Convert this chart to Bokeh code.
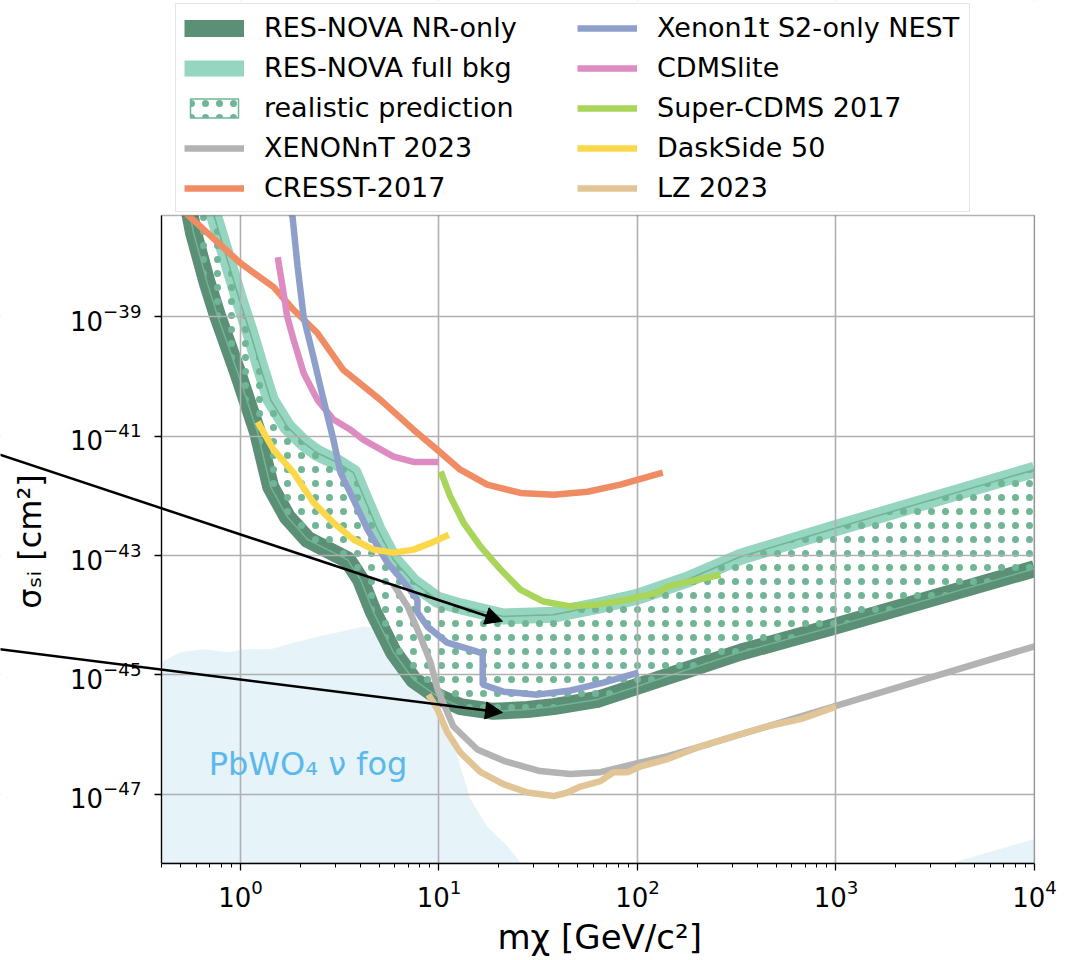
import numpy as np
from bokeh.plotting import figure
from bokeh.models import (Range1d, FixedTicker, Legend, LegendItem, Arrow,
                          NormalHead, Label, BoxAnnotation, Title)
from bokeh.embed import file_html
from bokeh.resources import INLINE

# ---------------- data (mass in GeV/c^2, cross-section as log10(sigma/cm^2)) -------------
nr_only_mass = [0.535, 0.56, 0.58, 0.68, 0.77, 0.97, 1.22, 1.42, 1.72, 2.18, 2.74, 3.46,
                4.02, 4.68, 5.9, 7.44, 9.83, 12.8, 18.8, 27.9, 37.8, 62.8, 100, 179, 330,
                971, 10000]
nr_only_logsig = [-36.96, -37.33, -37.59, -38.43, -39.0, -39.94, -40.94, -41.85, -42.35,
                  -42.73, -42.90, -43.07, -43.40, -43.95, -44.62, -45.08, -45.36, -45.53,
                  -45.61, -45.58, -45.53, -45.41, -45.19, -44.91, -44.62, -44.19, -43.22]

full_bkg_mass = [0.68, 0.74, 0.86, 1.0, 1.12, 1.26, 1.42, 1.72, 2.08, 2.44, 3.08, 3.71,
                 4.17, 4.90, 5.90, 7.44, 9.83, 12.8, 21.1, 37.8, 67.4, 100, 179, 330, 971,
                 10000]
full_bkg_logsig = [-36.96, -37.33, -38.05, -38.77, -39.27, -39.84, -40.39, -40.84, -41.11,
                   -41.28, -41.44, -41.61, -42.01, -42.56, -43.07, -43.45, -43.74, -43.85,
                   -44.02, -43.99, -43.82, -43.69, -43.40, -43.02, -42.55, -41.56]

cresst_mass = [0.477, 0.56, 1.0, 1.47, 1.85, 2.44, 3.30, 5.07, 7.44, 9.83, 12.8, 17.5,
               25.7, 37.8, 56, 82, 134]
cresst_logsig = [-37.13, -37.33, -38.10, -38.50, -38.88, -39.27, -39.89, -40.39, -40.89,
                 -41.23, -41.56, -41.81, -41.95, -41.98, -41.93, -41.81, -41.61]

xenon1t_mass = [1.77, 1.83, 1.94, 2.08, 2.33, 2.62, 2.94, 3.19, 3.71, 4.36, 5.50, 6.94,
                7.79, 7.79, 8.75, 11.0, 13.9, 16.6, 16.6, 21.1, 31.3, 45.9, 67.4, 101]
xenon1t_logsig = [-37.13, -37.33, -38.16, -39.0, -39.67, -40.39, -41.06, -41.61, -42.06,
                  -42.56, -43.12, -43.52, -43.74, -43.95, -44.19, -44.46, -44.56, -44.64,
                  -45.16, -45.28, -45.33, -45.26, -45.13, -44.96]

cdmslite_mass = [1.54, 1.63, 1.72, 1.85, 2.08, 2.44, 2.94, 3.58, 4.17, 5.90, 7.44, 9.94]
cdmslite_logsig = [-38.0, -38.50, -39.0, -39.38, -39.94, -40.39, -40.72, -40.89, -41.06,
                   -41.34, -41.43, -41.43]

supercdms_mass = [10.2, 11.4, 13.3, 16.2, 20.4, 25.7, 33.6, 45.9, 62.9, 89, 126, 142, 179,
                  262]
supercdms_logsig = [-41.59, -42.01, -42.45, -42.85, -43.23, -43.57, -43.77, -43.85, -43.82,
                    -43.74, -43.62, -43.52, -43.44, -43.32]

darkside_mass = [1.22, 1.47, 1.85, 2.33, 2.94, 3.71, 4.68, 5.90, 7.44, 9.38, 11.2]
darkside_logsig = [-40.76, -41.23, -41.61, -42.11, -42.45, -42.73, -42.90, -42.95, -42.90,
                   -42.77, -42.65]

xenonnt_mass = [5.90, 6.94, 8.07, 9.06, 9.83, 11.8, 15.6, 21.6, 32.3, 45.9, 65, 100, 142,
                207, 305, 452, 971, 10000]
xenonnt_logsig = [-43.49, -43.85, -44.36, -44.79, -45.24, -45.86, -46.25, -46.45, -46.61,
                  -46.66, -46.63, -46.48, -46.36, -46.20, -46.03, -45.86, -45.53, -44.52]

lz_mass = [8.85, 9.83, 11.0, 12.8, 16.2, 21.1, 27.9, 37.8, 44.4, 51.6, 65.1, 75.7, 89, 104,
           142, 207, 305, 452, 662, 1000]
lz_logsig = [-45.33, -45.58, -45.96, -46.30, -46.63, -46.83, -46.97, -47.03, -46.97, -46.87,
             -46.78, -46.63, -46.63, -46.53, -46.41, -46.20, -46.03, -45.86, -45.74, -45.53]

fog_left_mass = [0.395, 0.499, 0.652, 0.86, 1.08, 1.42, 1.85, 2.44, 3.08, 4.17, 4.68, 5.90,
                 7.18, 8.75, 10.2, 11.4, 12.8, 14.4, 17.5, 22.1, 25.7, 28]
fog_left_logsig = [-44.79, -44.62, -44.57, -44.62, -44.57, -44.57, -44.46, -44.36, -44.29,
                   -44.19, -44.20, -44.41, -44.74, -45.13, -45.58, -45.96, -46.53, -47.08,
                   -47.54, -47.87, -48.14, -48.3]
fog_right_mass = [3800, 3950, 10000]
fog_right_logsig = [-48.3, -48.14, -47.75]
fog_floor_logsig = -50.0

# annotation arrows (mass, log10 sigma)
arrow_start_mass = [0.0614, 0.0614]
arrow_start_logsig = [-41.31, -44.57]
arrow_end_mass = [20.9, 20.9]
arrow_end_logsig = [-44.10, -45.63]

fog_label_mass = 2.19
fog_label_logsig = -46.50

x_ticks = [1, 10, 100, 1000, 10000]
y_ticks_exp = [-47, -45, -43, -41, -39]


def sig(a):
    return [10.0 ** v for v in a]


# ---------------- colours / geometry ----------------
C_DARK = "#5b8f76"
C_LIGHT = "#96d5bf"
C_HATCH = "#6fb596"
C_CRESST = "#ef8c63"
C_XE1T = "#8f9fcb"
C_CDMSL = "#dd8cc2"
C_SCDMS = "#a8d55a"
C_DS = "#fbd84a"
C_XENT = "#b3b3b3"
C_LZ = "#e2c597"
C_FOG = "#e6f3f8"
FONT = "DejaVu Sans"

X_LO, X_HI = 0.4, 1e4                    # visible axes box
Y_LO_EXP, Y_HI_EXP = -48.16, -37.30
AX_W, AX_H = 873, 648                    # axes box size (px)
LEFT_PAD, RIGHT_PAD, TOP_PAD = 161, 4, 215   # drawing room around the axes box
px_dec_x = AX_W / (np.log10(X_HI) - np.log10(X_LO))
px_dec_y = AX_H / (Y_HI_EXP - Y_LO_EXP)

p = figure(x_axis_type="log", y_axis_type="log",
           x_range=Range1d(10 ** (np.log10(X_LO) - LEFT_PAD / px_dec_x),
                           10 ** (np.log10(X_HI) + RIGHT_PAD / px_dec_x)),
           y_range=Range1d(10 ** Y_LO_EXP, 10 ** (Y_HI_EXP + TOP_PAD / px_dec_y)),
           frame_width=LEFT_PAD + AX_W + RIGHT_PAD, frame_height=AX_H + TOP_PAD,
           min_border_left=0, min_border_right=40 - RIGHT_PAD, min_border_top=0,
           min_border_bottom=94,
           output_backend="svg", toolbar_location=None)
p.background_fill_color = "white"
p.border_fill_color = "white"
p.outline_line_color = None

# fog
r = p.varea(x=fog_left_mass, y1=[10 ** fog_floor_logsig] * len(fog_left_mass),
            y2=sig(fog_left_logsig), fill_color=C_FOG)
r.level = "image"
r = p.varea(x=fog_right_mass, y1=[10 ** fog_floor_logsig] * len(fog_right_mass),
            y2=sig(fog_right_logsig), fill_color=C_FOG)
r.level = "image"

# bands
r_light = p.line(full_bkg_mass, sig(full_bkg_logsig), line_color=C_LIGHT, line_width=16,
                 line_join="round")
r_light.level = "image"
r_dark = p.line(nr_only_mass, sig(nr_only_logsig), line_color=C_DARK, line_width=17,
                line_join="round")
r_dark.level = "image"

hx = list(full_bkg_mass) + list(nr_only_mass[::-1])
hy = sig(full_bkg_logsig) + sig(nr_only_logsig[::-1])
r_hatch = p.patch(hx, hy, fill_color=None, line_color=C_HATCH, line_width=1.5,
                  hatch_pattern="dot", hatch_color=C_HATCH, hatch_scale=14,
                  hatch_weight=3)
r_hatch.level = "image"

LW = 6.5
r_xent = p.line(xenonnt_mass, sig(xenonnt_logsig), line_color=C_XENT, line_width=LW)
r_lz = p.line(lz_mass, sig(lz_logsig), line_color=C_LZ, line_width=LW)
r_cresst = p.line(cresst_mass, sig(cresst_logsig), line_color=C_CRESST, line_width=LW)
r_cdmsl = p.line(cdmslite_mass, sig(cdmslite_logsig), line_color=C_CDMSL, line_width=LW)
r_xe1t = p.line(xenon1t_mass, sig(xenon1t_logsig), line_color=C_XE1T, line_width=LW)
r_scdms = p.line(supercdms_mass, sig(supercdms_logsig), line_color=C_SCDMS, line_width=LW)
r_ds = p.line(darkside_mass, sig(darkside_logsig), line_color=C_DS, line_width=LW)

# masks outside the axes box, then the box outline
for kw in (dict(bottom=10 ** Y_HI_EXP), dict(right=X_LO), dict(left=X_HI)):
    p.add_layout(BoxAnnotation(fill_color="white", fill_alpha=1.0, line_color=None, **kw))
p.add_layout(BoxAnnotation(left=X_LO, right=X_HI, bottom=10 ** Y_LO_EXP,
                           top=10 ** Y_HI_EXP, fill_color=None, fill_alpha=0,
                           line_color="black", line_width=1.3))

# fog label
p.add_layout(Label(x=fog_label_mass, y=10 ** fog_label_logsig, text="PbWO₄ ν fog",
                   text_align="center", text_baseline="alphabetic",
                   text_color="#5ab8ec", text_font=FONT, text_font_size="32px"))

# arrows
for xs, ys, xe, ye in zip(arrow_start_mass, arrow_start_logsig, arrow_end_mass,
                          arrow_end_logsig):
    p.add_layout(Arrow(end=NormalHead(size=17, fill_color="black", line_color="black"),
                       x_start=xs, y_start=10 ** ys, x_end=xe, y_end=10 ** ye,
                       line_width=2.5, line_color="black"))

# y-axis title, placed in the left margin of the drawing area
p.add_layout(Label(x=10 ** (np.log10(X_LO) - 132 / px_dec_x),
                   y=10 ** (Y_HI_EXP - 326 / px_dec_y),
                   text="σₛᵢ [cm²]", angle=np.pi / 2, text_align="center",
                   text_baseline="middle", text_font=FONT, text_font_size="32px",
                   text_color="black"))

# axes
p.xaxis.ticker = FixedTicker(ticks=x_ticks,
                             minor_ticks=[k * 10.0 ** d for d in range(-1, 4)
                                          for k in range(2, 10) if k * 10.0 ** d >= X_LO])
p.xaxis.bounds = (X_LO, X_HI)
p.yaxis.ticker = FixedTicker(ticks=[10.0 ** e for e in y_ticks_exp], minor_ticks=[])
p.yaxis.bounds = (10 ** Y_LO_EXP, 10 ** Y_HI_EXP)
p.yaxis.fixed_location = X_LO
p.yaxis.level = "overlay"
for ax in (p.xaxis, p.yaxis):
    ax.major_tick_out = 7
    ax.major_tick_in = 0
    ax.minor_tick_out = 4
    ax.minor_tick_in = 0
    ax.major_tick_line_width = 1.3
    ax.minor_tick_line_width = 1.0
    ax.axis_line_width = 1.3
    ax.major_label_text_font = FONT
    ax.major_label_text_font_size = "26px"
    ax.major_label_text_color = "black"
p.xaxis.major_label_standoff = 8
p.yaxis.major_label_standoff = 13

# x-axis title, centred under the axes box
p.add_layout(Title(text="mχ [GeV/c²]", align="left", offset=497, text_font=FONT,
                   text_font_size="34px", text_font_style="normal",
                   text_color="black"), "below")

p.grid.grid_line_color = "#b0b0b0"
p.grid.grid_line_width = 1.6

legend = Legend(items=[
    LegendItem(label="RES-NOVA NR-only", renderers=[r_dark]),
    LegendItem(label="RES-NOVA full bkg", renderers=[r_light]),
    LegendItem(label="realistic prediction", renderers=[r_hatch]),
    LegendItem(label="XENONnT 2023", renderers=[r_xent]),
    LegendItem(label="CRESST-2017", renderers=[r_cresst]),
    LegendItem(label="Xenon1t S2-only NEST", renderers=[r_xe1t]),
    LegendItem(label="CDMSlite", renderers=[r_cdmsl]),
    LegendItem(label="Super-CDMS 2017", renderers=[r_scdms]),
    LegendItem(label="DaskSide 50", renderers=[r_ds]),
    LegendItem(label="LZ 2023", renderers=[r_lz]),
], ncols=2, location=(LEFT_PAD + 14, AX_H + 3))
legend.label_text_font = FONT
legend.label_text_font_size = "27px"
legend.label_text_color = "black"
legend.glyph_width = 60
legend.glyph_height = 24
legend.label_height = 27
legend.label_width = 304
legend.label_standoff = 20
legend.spacing = 9
legend.padding = 8
legend.margin = 0
legend.border_line_color = "#cccccc"
legend.border_line_width = 1.5
legend.background_fill_alpha = 0.85
p.add_layout(legend)

open("out.html", "w").write(file_html(p, INLINE))
